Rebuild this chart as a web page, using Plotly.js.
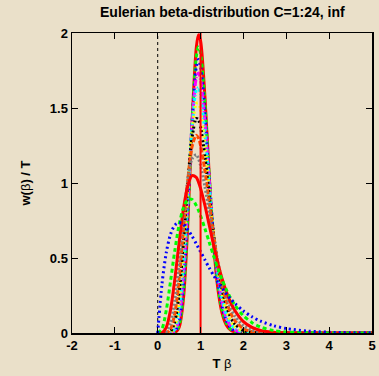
<!DOCTYPE html>
<html>
<head>
<meta charset="utf-8">
<script src="https://cdn.plot.ly/plotly-3.0.1.min.js"></script>
<style>
  html, body { margin: 0; padding: 0; background: #eae0c9; }
  #chart { width: 379px; height: 376px; }
</style>
</head>
<body>
<div id="chart"></div>
<script>
// Shared abscissa T*beta for every curve
const tBeta = [0, 0.1, 0.2, 0.3, 0.4, 0.5, 0.6, 0.7, 0.8, 0.9, 0.95, 1.0, 1.1, 1.2, 1.3, 1.4, 1.5, 1.6, 1.7, 1.8, 2.0, 2.2, 2.4, 2.7, 3.0, 3.5, 4.0, 4.5, 5.0];

// w(beta)/T for each heat-capacity value, from the broadest to the narrowest
const w02 = [0, 0.328, 0.536, 0.659, 0.719, 0.736, 0.723, 0.690, 0.646, 0.595, 0.568, 0.541, 0.488, 0.435, 0.386, 0.341, 0.299, 0.261, 0.227, 0.197, 0.147, 0.108, 0.079, 0.049, 0.030, 0.013, 0.005, 0.002, 0.001];
const w04 = [0, 0.029, 0.153, 0.347, 0.551, 0.722, 0.836, 0.890, 0.891, 0.850, 0.818, 0.782, 0.697, 0.607, 0.517, 0.433, 0.357, 0.290, 0.234, 0.186, 0.115, 0.069, 0.040, 0.017, 0.007, 0.002, 0, 0, 0];
const w06 = [0, 0.002, 0.038, 0.156, 0.361, 0.605, 0.826, 0.980, 1.049, 1.037, 1.007, 0.964, 0.852, 0.722, 0.592, 0.470, 0.364, 0.276, 0.205, 0.150, 0.076, 0.037, 0.017, 0.005, 0.001, 0, 0, 0, 0];
const w08 = [0, 0, 0.009, 0.066, 0.222, 0.476, 0.767, 1.014, 1.160, 1.189, 1.163, 1.117, 0.978, 0.808, 0.636, 0.480, 0.350, 0.247, 0.169, 0.114, 0.048, 0.019, 0.007, 0.001, 0, 0, 0, 0, 0];
const w10 = [0, 0, 0.002, 0.027, 0.132, 0.363, 0.688, 1.014, 1.241, 1.318, 1.300, 1.251, 1.085, 0.874, 0.661, 0.473, 0.324, 0.213, 0.135, 0.083, 0.029, 0.009, 0.003, 0, 0, 0, 0, 0, 0];
const w12 = [0, 0, 0, 0.011, 0.077, 0.270, 0.605, 0.993, 1.300, 1.430, 1.422, 1.372, 1.179, 0.925, 0.672, 0.457, 0.294, 0.180, 0.106, 0.060, 0.017, 0.005, 0.001, 0, 0, 0, 0, 0, 0];
const w14 = [0, 0, 0, 0.004, 0.044, 0.199, 0.524, 0.959, 1.342, 1.530, 1.534, 1.484, 1.263, 0.965, 0.674, 0.436, 0.263, 0.150, 0.082, 0.042, 0.010, 0.002, 0, 0, 0, 0, 0, 0, 0];
const w16 = [0, 0, 0, 0.002, 0.025, 0.144, 0.449, 0.916, 1.370, 1.619, 1.637, 1.588, 1.339, 0.997, 0.669, 0.410, 0.233, 0.124, 0.062, 0.030, 0.006, 0.001, 0, 0, 0, 0, 0, 0, 0];
const w18 = [0, 0, 0, 0, 0.014, 0.104, 0.382, 0.868, 1.388, 1.700, 1.733, 1.685, 1.408, 1.021, 0.658, 0.384, 0.205, 0.101, 0.047, 0.021, 0.003, 0.001, 0, 0, 0, 0, 0, 0, 0];
const w20 = [0, 0, 0, 0, 0.008, 0.075, 0.323, 0.817, 1.398, 1.773, 1.823, 1.777, 1.471, 1.040, 0.644, 0.356, 0.179, 0.083, 0.035, 0.014, 0.002, 0, 0, 0, 0, 0, 0, 0, 0];
const w22 = [0, 0, 0, 0, 0.004, 0.053, 0.271, 0.765, 1.400, 1.841, 1.907, 1.864, 1.529, 1.053, 0.627, 0.329, 0.155, 0.067, 0.026, 0.010, 0.001, 0, 0, 0, 0, 0, 0, 0, 0];
const w24 = [0, 0, 0, 0, 0.003, 0.038, 0.227, 0.714, 1.397, 1.903, 1.988, 1.948, 1.582, 1.062, 0.607, 0.303, 0.134, 0.054, 0.020, 0.007, 0.001, 0, 0, 0, 0, 0, 0, 0, 0];

// Infinite heat capacity: a spike at T*beta = 1
const infX = [1, 1];
const infY = [0, 2];

const xTicks = [-2, -1, 0, 1, 2, 3, 4, 5];
const xTickText = ['-2', '-1', '0', '1', '2', '3', '4', '5'];
const yTicks = [0, 0.5, 1, 1.5, 2];
const yTickText = ['0', '0.5', '1', '1.5', '2'];

// Drawing order and the cycling line styles
const curves = [w24, w22, w20, w18, w16, w14, w12, w10, w08, w06, w04, w02];
const palette = ['#ff0000', '#00ff00', '#0000ff', '#ff00ff', '#00ffff', '#ffff00', '#000000', '#ff4d00', '#808080'];
const dashes = ['solid', '4px,3px', '2px,3px', '6px,2px,1px,2px', '3px,2px,1px,2px', '2px,2px,2px,4px', '2px,2px,2px,2px,2px,4px', '5px,2px', '2px,2px'];

const traces = curves.map((y, i) => ({
  x: tBeta, y: y, type: 'scatter', mode: 'lines', hoverinfo: 'skip',
  line: { color: palette[i % 9], dash: dashes[i % 9], width: 3, shape: 'spline', smoothing: 0.8 }
}));
traces.push({
  x: infX, y: infY, type: 'scatter', mode: 'lines', hoverinfo: 'skip',
  line: { color: '#ff0000', width: 2 }
});

const bg = '#eae0c9';
const boldFont = { family: '"Liberation Sans", Arial, sans-serif', size: 13, color: '#000', weight: 'bold' };

const axisCommon = {
  ticks: 'inside', ticklen: 6, tickwidth: 1, tickcolor: '#000',
  showline: true, linecolor: '#000', linewidth: 1.5, mirror: 'allticks',
  showgrid: false, zeroline: false, tickfont: boldFont, automargin: false
};

const layout = {
  width: 379, height: 376,
  margin: { l: 72, r: 7, t: 33, b: 43, pad: 0 },
  paper_bgcolor: bg, plot_bgcolor: bg,
  showlegend: false,
  xaxis: Object.assign({}, axisCommon, {
    range: [-2, 5], tickmode: 'array', tickvals: xTicks, ticktext: xTickText,
    title: { text: 'T <span style="font-weight:normal">β</span>', font: boldFont, standoff: 7 }
  }),
  yaxis: Object.assign({}, axisCommon, {
    range: [0, 2], tickmode: 'array', tickvals: yTicks, ticktext: yTickText,
    title: { text: 'w(<span style="font-weight:normal">β</span>) / T', font: boldFont, standoff: 16 }
  }),
  // Chart heading, centred over the plotting frame
  annotations: [{
    text: 'Eulerian beta-distribution C=1:24, inf',
    xref: 'paper', yref: 'paper', x: 0.5, y: 1.07,
    xanchor: 'center', yanchor: 'middle', showarrow: false,
    font: Object.assign({}, boldFont, { size: 14 })
  }],
  shapes: [{
    type: 'line', xref: 'x', yref: 'paper', x0: 0, x1: 0, y0: 0, y1: 1,
    line: { color: '#000', width: 1, dash: 'dot' }, layer: 'below'
  }]
};

Plotly.newPlot('chart', traces, layout, { staticPlot: true, displayModeBar: false });
</script>
</body>
</html>
